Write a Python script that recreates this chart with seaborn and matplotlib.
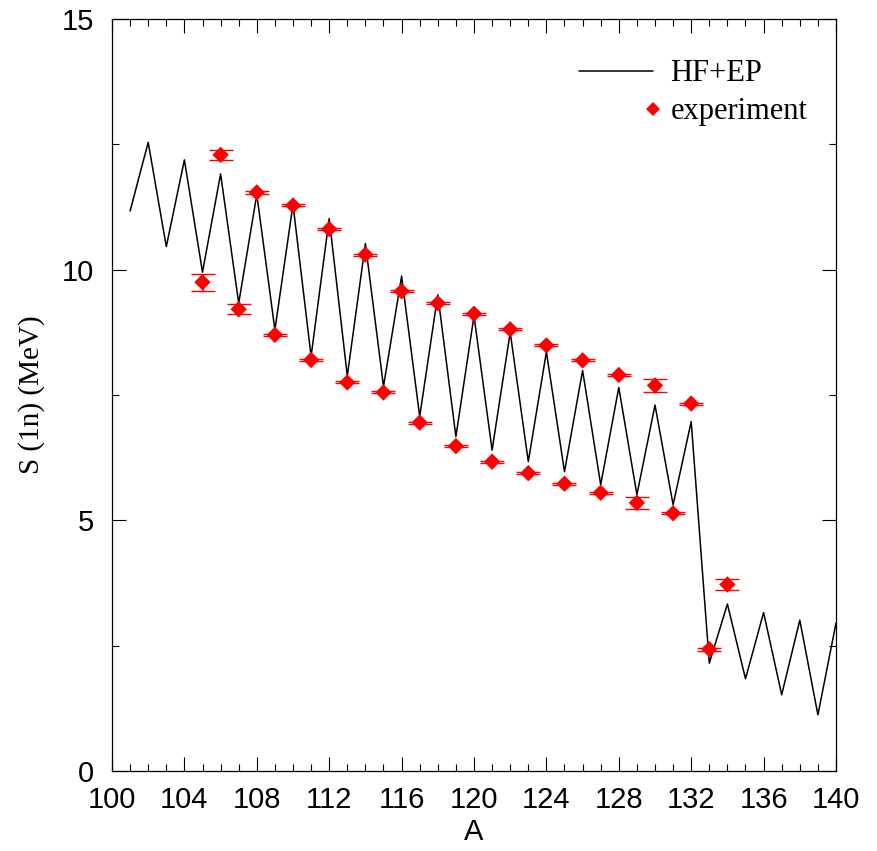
import numpy as np
import pandas as pd
import matplotlib
matplotlib.use("Agg")
import matplotlib.pyplot as plt
import seaborn as sns
from matplotlib.lines import Line2D
from matplotlib.legend_handler import HandlerBase
from matplotlib.ticker import MultipleLocator

# ---------------- data ----------------
A_theory = list(range(101, 141))
S_theory = [11.17, 12.54, 10.46, 12.19, 9.95, 11.91, 9.33, 11.50, 8.80, 11.30,
            8.27, 11.02, 7.88, 10.52, 7.67, 9.87, 7.07, 9.50, 6.67, 9.08,
            6.40, 8.75, 6.17, 8.36, 5.97, 7.99, 5.71, 7.65, 5.51, 7.30,
            5.31, 6.97, 2.15, 3.33, 1.84, 3.16, 1.52, 3.01, 1.12, 2.95]

A_exp = list(range(105, 135))
S_exp = [9.75, 12.29, 9.21, 11.54, 8.70, 11.28, 8.20, 10.81, 7.75, 10.30,
         7.55, 9.57, 6.95, 9.33, 6.48, 9.12, 6.17, 8.81, 5.94, 8.49,
         5.73, 8.19, 5.55, 7.90, 5.35, 7.69, 5.14, 7.33, 2.43, 3.72]
S_err = [0.17, 0.10, 0.10, 0.03, 0.02, 0.02, 0.02, 0.02, 0.02, 0.02,
         0.02, 0.02, 0.02, 0.02, 0.02, 0.02, 0.02, 0.02, 0.02, 0.02,
         0.02, 0.02, 0.02, 0.02, 0.12, 0.13, 0.02, 0.02, 0.03, 0.11]

x_ticks = [100, 104, 108, 112, 116, 120, 124, 128, 132, 136, 140]
y_ticks = [0, 5, 10, 15]
labels = ["HF+EP", "experiment"]

df_t = pd.DataFrame({"A": A_theory, "S": S_theory})
df_e = pd.DataFrame({"A": A_exp, "S": S_exp, "err": S_err})

# ---------------- style ----------------
sns.set_style("ticks")
plt.rcParams["font.family"] = ["Liberation Sans", "DejaVu Sans"]
plt.rcParams["text.color"] = "black"
plt.rcParams["xtick.color"] = "black"
plt.rcParams["ytick.color"] = "black"
plt.rcParams["axes.labelcolor"] = "black"

fig = plt.figure(figsize=(8.78, 8.51), dpi=100)
ax = fig.add_axes([112 / 878, 1 - 771 / 851, (836 - 112) / 878, (771 - 19) / 851])

sns.lineplot(data=df_t, x="A", y="S", ax=ax, color="black", linewidth=1.1,
             legend=False)
ax.errorbar(df_e["A"], df_e["S"], yerr=df_e["err"], fmt="none", ecolor="red",
            elinewidth=1.0, capsize=8.6, capthick=1.0, zorder=3)
sns.scatterplot(data=df_e, x="A", y="S", ax=ax, marker="D", color="red",
                s=70, edgecolor="none", zorder=4, legend=False)

ax.set_xlim(100, 140)
ax.set_ylim(0, 15)
ax.set_xticks(x_ticks)
ax.set_yticks(y_ticks)
ax.xaxis.set_minor_locator(MultipleLocator(1))
ax.yaxis.set_minor_locator(MultipleLocator(2.5))
ax.tick_params(which="both", direction="in", top=True, right=True,
               width=0.8, color="black", labelcolor="black")
ax.tick_params(which="major", length=10, labelsize=21)
ax.tick_params(which="minor", length=5)
ax.tick_params(axis="x", which="major", pad=11)
ax.tick_params(axis="y", which="major", pad=13)
for sp in ax.spines.values():
    sp.set_linewidth(0.9)
    sp.set_color("black")

ax.set_xlabel("A", fontsize=21, labelpad=3, color="black")
ax.set_ylabel("S (1n) (MeV)", fontsize=21, family=["Liberation Serif"],
              labelpad=12, color="black")


class EndMarkerHandler(HandlerBase):
    def create_artists(self, legend, orig_handle, xdescent, ydescent,
                       width, height, fontsize, trans):
        m = Line2D([width - xdescent], [(height - ydescent) / 2.0],
                   marker="D", color="red", markersize=7, linestyle="none",
                   markeredgewidth=0, transform=trans)
        return [m]


h_line = Line2D([], [], color="black", linewidth=1.1)
h_pts = Line2D([], [], marker="D", color="red", linestyle="none")
leg = ax.legend([h_line, h_pts], labels, loc="upper right",
                bbox_to_anchor=(0.9985, 0.983), frameon=False,
                handlelength=2.4, handletextpad=0.58, labelspacing=0.3,
                prop={"family": "Liberation Serif", "size": 22},
                handler_map={h_pts: EndMarkerHandler()})
for t in leg.get_texts():
    t.set_color("black")

fig.savefig("out.png", dpi=100)
